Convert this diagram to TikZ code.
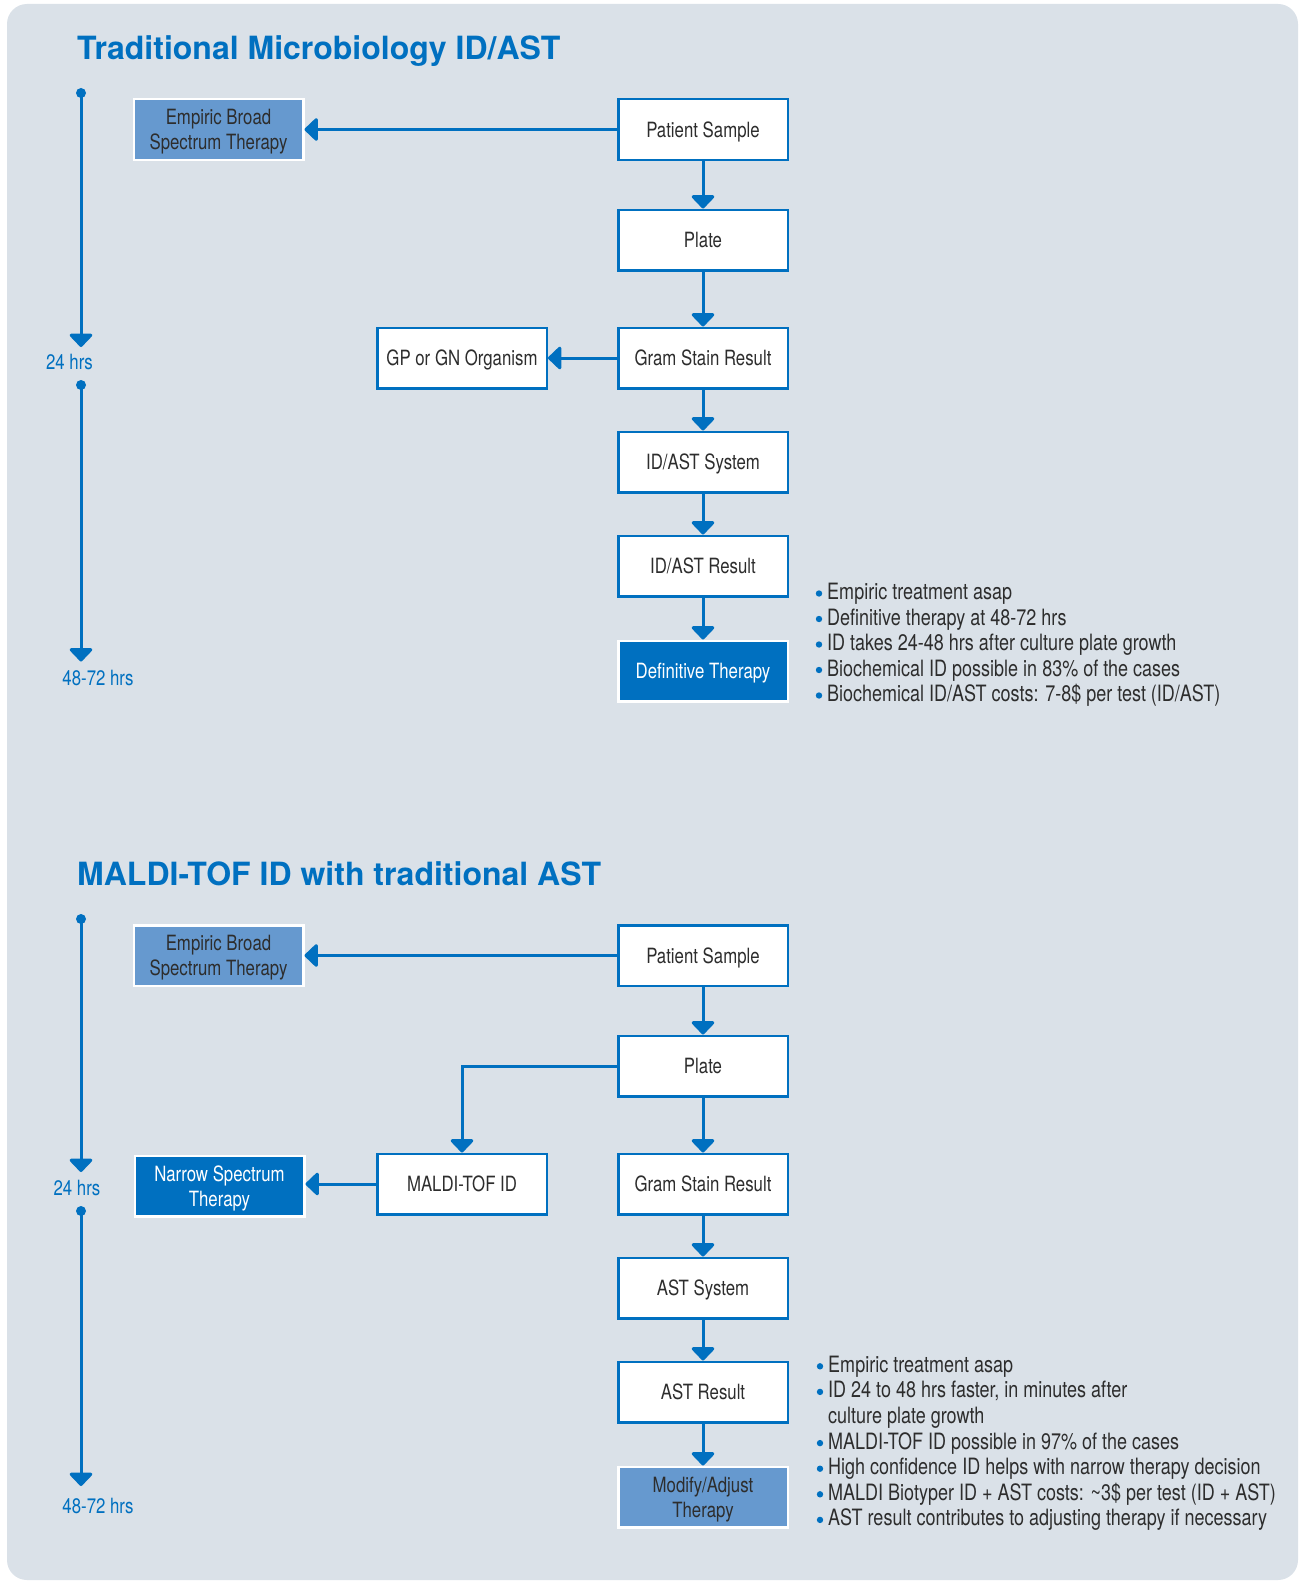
\documentclass[tikz,border=0pt]{standalone}
\usepackage{fontspec}
\setmainfont{TeX Gyre Heros}[FakeStretch=0.8]
\newfontfamily\titlefont{TeX Gyre Heros}
\usetikzlibrary{arrows.meta}
\definecolor{tblue}{RGB}{0,112,192}
\definecolor{tmid}{RGB}{102,153,207}
\definecolor{tback}{RGB}{218,225,232}
\definecolor{tgray}{RGB}{45,45,45}

\begin{document}
\begin{tikzpicture}[x=1pt, y=-1pt,
  box/.style={draw=tblue, line width=2.5pt, fill=white, minimum width=169.5pt, minimum height=60.5pt,
    inner sep=2pt, text depth=0pt, align=center, text=tgray, font=\fontsize{21}{25}\selectfont},
  midbox/.style={box, draw=white, fill=tmid},
  darkbox/.style={box, draw=white, fill=tblue, text=white},
  flow/.style={draw=tblue, line width=3pt, -{Triangle[width=26pt, length=14pt, round]}},
  dot/.style={circle, fill=tblue, inner sep=0pt, minimum size=10pt},
  hrs/.style={anchor=base, inner sep=0pt, text=tblue, font=\fontsize{21}{25}\selectfont},
  head/.style={anchor=base west, inner sep=0pt, text=tblue, font=\titlefont\bfseries\fontsize{32}{36}\selectfont},
  note/.style={anchor=base west, inner sep=0pt, text=tgray, font=\fontsize{22.5}{26}\selectfont}
]
\useasboundingbox (0,0) rectangle (1305,1584);
\fill[white] (0,0) rectangle (1305,1584);
\fill[tback, rounded corners=20pt] (7,4) rectangle (1298,1580);

% traditional ID/AST
\node[head] (title1) at (77,59.3) {Traditional Microbiology ID/AST};

\node[dot] (d1a) at (81,93) {};
\coordinate (t1a) at (81,347);
\node[hrs] (h1a) at (69.5,369.3) {24 hrs};
\node[dot] (d1b) at (81,385) {};
\coordinate (t1b) at (81,661.5);
\node[hrs] (h1b) at (98,685) {48-72 hrs};
\draw[flow] (d1a.center) -- (t1a);
\draw[flow] (d1b.center) -- (t1b);

\node[box] (ps1) at (703,129.5) {Patient Sample};
\node[box] (plate1) at (703,240) {Plate};
\node[box] (gram1) at (703,358) {Gram Stain Result};
\node[box] (sys1) at (703,462) {ID/AST System};
\node[box] (res1) at (703,566) {ID/AST Result};
\node[darkbox] (def1) at (703,671) {Definitive Therapy};
\node[midbox] (emp1) at (218.5,129.5) {Empiric Broad\\Spectrum Therapy};
\node[box] (gp1) at (462,358) {GP or GN Organism};

\draw[flow] (ps1) -- (emp1);
\draw[flow] (ps1) -- (plate1);
\draw[flow] (plate1) -- (gram1);
\draw[flow] (gram1) -- (gp1);
\draw[flow] (gram1) -- (sys1);
\draw[flow] (sys1) -- (res1);
\draw[flow] (res1) -- (def1);

\foreach \txt [count=\i from 0] in {Empiric treatment asap, Definitive therapy at 48-72 hrs,
    ID takes 24-48 hrs after culture plate growth, Biochemical ID possible in 83\% of the cases,
    Biochemical ID/AST costs: 7-8\$ per test (ID/AST)} {
  \node[note] (n1-\i) at (827,{599.5+25.5*\i}) {\txt};
  \fill[tblue] (819,{599.5+25.5*\i-6}) circle (3.2pt);
}

% MALDI-TOF ID
\node[head] (title2) at (77,885.3) {MALDI-TOF ID with traditional AST};

\node[dot] (d2a) at (81,919) {};
\coordinate (t2a) at (81,1172);
\node[hrs] (h2a) at (77,1195.5) {24 hrs};
\node[dot] (d2b) at (81,1211) {};
\coordinate (t2b) at (81,1486);
\node[hrs] (h2b) at (98,1513.5) {48-72 hrs};
\draw[flow] (d2a.center) -- (t2a);
\draw[flow] (d2b.center) -- (t2b);

\node[box] (ps2) at (703,955.5) {Patient Sample};
\node[box] (plate2) at (703,1066) {Plate};
\node[box] (gram2) at (703,1184) {Gram Stain Result};
\node[box] (sys2) at (703,1288) {AST System};
\node[box] (res2) at (703,1392) {AST Result};
\node[midbox] (mod2) at (703,1497) {Modify/Adjust\\Therapy};
\node[midbox] (emp2) at (218.5,955.5) {Empiric Broad\\Spectrum Therapy};
\node[box] (maldi2) at (462,1184) {MALDI-TOF ID};
\node[darkbox] (narrow2) at (219.5,1186) {Narrow Spectrum\\Therapy};

\draw[flow] (ps2) -- (emp2);
\draw[flow] (ps2) -- (plate2);
\draw[flow] (plate2.west) -| (maldi2.north);
\draw[flow] (maldi2.west) -- (maldi2.west -| narrow2.east);
\draw[flow] (plate2) -- (gram2);
\draw[flow] (gram2) -- (sys2);
\draw[flow] (sys2) -- (res2);
\draw[flow] (res2) -- (mod2);

\foreach \i/\txt in {0/Empiric treatment asap, {1/ID 24 to 48 hrs faster, in minutes after},
    3/MALDI-TOF ID possible in 97\% of the cases, 4/High confidence ID helps with narrow therapy decision,
    5/MALDI Biotyper ID + AST costs: \textasciitilde3\$ per test (ID + AST),
    6/AST result contributes to adjusting therapy if necessary} {
  \node[note] (n2-\i) at (828,{1372.3+25.6*\i}) {\txt};
  \fill[tblue] (820,{1372.3+25.6*\i-6}) circle (3.2pt);
}
\node[note] (n2-2) at (828,{1372.3+25.6*2}) {culture plate growth};
\end{tikzpicture}
\end{document}
